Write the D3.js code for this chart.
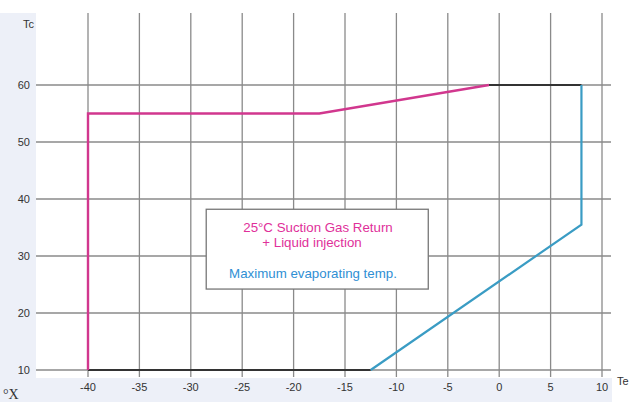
<!DOCTYPE html>
<html><head><meta charset="utf-8">
<script src="https://cdn.jsdelivr.net/npm/d3@7"></script>
<style>body{margin:0;background:#fff}svg{display:block}</style>
</head><body>
<svg id="c" width="630" height="402"></svg>
<script>
const xTicks = [-40,-35,-30,-25,-20,-15,-10,-5,0,5,10];
const yTicks = [10,20,30,40,50,60];
const pinkTe = [-40,-40,-17.5,-1];
const pinkTc = [10,55,55,60];
const topTe = [-1,8];
const topTc = [60,60];
const blueTe = [8,8,-12.5];
const blueTc = [60,35.5,10];
const bottomTe = [-40,-12.5];
const bottomTc = [10,10];
const boxTe = [-28.5,-6.9];
const boxTc = [38.2,24.2];
const noteLines = ["25°C Suction Gas Return","+ Liquid injection","Maximum evaporating temp."];

const svg = d3.select("#c");
const x = d3.scaleLinear().domain([-40,10]).range([88,602]);
const y = d3.scaleLinear().domain([10,60]).range([370,85]);

// background panels
svg.append("rect").attr("x",0).attr("y",13).attr("width",36).attr("height",389).attr("fill","#edf0f8");
svg.append("rect").attr("x",0).attr("y",378).attr("width",612).attr("height",24).attr("fill","#edf0f8");

const grid = svg.append("g").attr("stroke","#8a8a8a").attr("stroke-width",1.3);
xTicks.forEach(t=>grid.append("line").attr("x1",x(t)).attr("x2",x(t)).attr("y1",13).attr("y2",377));
yTicks.forEach(t=>grid.append("line").attr("x1",36).attr("x2",611).attr("y1",y(t)).attr("y2",y(t)));

const font = "Liberation Sans, Arial, sans-serif";
svg.append("g").selectAll("text").data(yTicks).join("text")
  .attr("x",30).attr("y",d=>y(d)+4).attr("text-anchor","end")
  .attr("font-family",font).attr("font-size",11).attr("fill","#333").text(d=>d);
svg.append("g").selectAll("text").data(xTicks).join("text")
  .attr("x",d=>x(d)).attr("y",391).attr("text-anchor","middle")
  .attr("font-family",font).attr("font-size",11).attr("fill","#333").text(d=>d);
svg.append("text").attr("x",34).attr("y",28).attr("text-anchor","end").attr("font-family",font).attr("font-size",11).attr("fill","#333").text("Tc");
svg.append("text").attr("x",617).attr("y",385).attr("font-family",font).attr("font-size",11).attr("fill","#333").text("Te");
svg.append("text").attr("x",3).attr("y",399).attr("font-family","Liberation Serif, serif").attr("font-size",14).attr("fill","#333").text("°X");

const line = d3.line().x(d=>x(d[0])).y(d=>y(d[1]));
const zip = (a,b)=>a.map((v,i)=>[v,b[i]]);
function path(te,tc,color,w){
  svg.append("path").datum(zip(te,tc)).attr("d",line).attr("fill","none")
    .attr("stroke",color).attr("stroke-width",w).attr("stroke-linejoin","miter");
}
path(bottomTe,bottomTc,"#333",2.2);
path(topTe,topTc,"#333",2);
path(pinkTe,pinkTc,"#d1378e",2.4);
path(blueTe,blueTc,"#3a9cc4",2.2);

// note box
svg.append("rect").attr("x",x(boxTe[0])).attr("y",y(boxTc[0]))
  .attr("width",x(boxTe[1])-x(boxTe[0])).attr("height",y(boxTc[1])-y(boxTc[0]))
  .attr("fill","#fff").attr("stroke","#777").attr("stroke-width",1.3);
const notePos = [[318,232,"#e0309a"],[312,247,"#e0309a"],[313,278,"#2f8fd4"]];
noteLines.forEach((t,i)=>svg.append("text").attr("x",notePos[i][0]).attr("y",notePos[i][1])
  .attr("text-anchor","middle").attr("font-family",font).attr("font-size",13.3)
  .attr("fill",notePos[i][2]).text(t));
</script>
</body></html>
